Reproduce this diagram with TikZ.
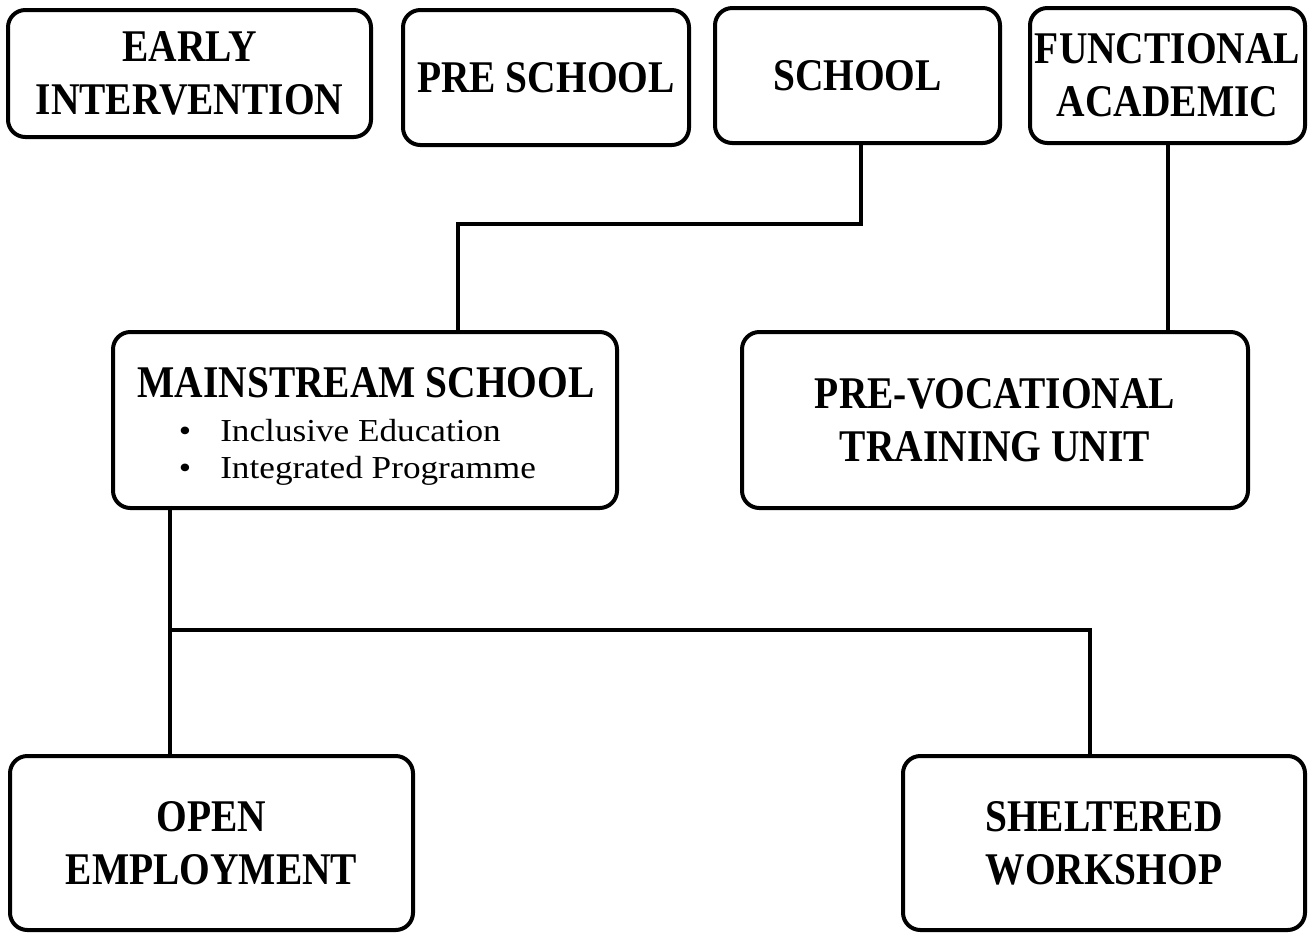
\documentclass[tikz,border=0pt]{standalone}
\usepackage{fontspec}
\setmainfont{Liberation Serif}
\newfontfamily\titlefont{Liberation Serif}[FakeStretch=0.87]
\newfontfamily\bodyfont{Liberation Serif}[FakeStretch=1.1]
\begin{document}
\begin{tikzpicture}[x=0.75pt,y=-0.75pt,
  box/.style={draw=black,line width=3pt,rounded corners=13pt,align=center,inner sep=0pt,
    font=\titlefont\bfseries\fontsize{34}{40}\selectfont},
  conn/.style={draw=black,line width=3pt},
  ttl/.style={font=\titlefont\bfseries\fontsize{34}{40}\selectfont,inner sep=0pt},
  itm/.style={font=\bodyfont\fontsize{24}{28}\selectfont,inner sep=0pt}]
\useasboundingbox (0,0) rectangle (1310,933);
\node[box,minimum width=272.25pt,minimum height=95.25pt] (early) at (189.5,73.5) {EARLY\\INTERVENTION};
\node[box,minimum width=214.5pt,minimum height=101.25pt] (pre) at (546,77.5) {PRE SCHOOL};
\node[box,minimum width=213.75pt,minimum height=101.25pt] (school) at (857.5,75.5) {SCHOOL};
\node[box,minimum width=206.25pt,minimum height=101.25pt] (func) at (1167.5,75.5) {FUNCTIONAL\\ACADEMIC};
\node[box,minimum width=378pt,minimum height=132pt] (main) at (365,420) {};
\node[box,minimum width=379.5pt,minimum height=132pt] (prevoc) at (995,420) {PRE-VOCATIONAL\\TRAINING UNIT};
\node[box,minimum width=302.25pt,minimum height=130.5pt] (open) at (211.5,843) {OPEN\\EMPLOYMENT};
\node[box,minimum width=301.5pt,minimum height=130.5pt] (shelt) at (1104,843) {SHELTERED\\WORKSHOP};
% mainstream contents
\node[ttl,anchor=base] (mtitle) at (366,397) {MAINSTREAM SCHOOL};
\node[itm,anchor=base] (b1) at (185,441) {•};
\node[itm,anchor=base west] (i1) at (220,441) {Inclusive Education};
\node[itm,anchor=base] (b2) at (185,478) {•};
\node[itm,anchor=base west] (i2) at (220,478) {Integrated Programme};
% connectors
\coordinate (j1) at (458,224);
\draw[conn] ([xshift=2.6pt]school.south) |- (j1) -- (j1 |- main.north);
\draw[conn] (func.south) -- (func.south |- prevoc.north);
\coordinate (j2) at (170,630);
\coordinate (j3) at (1090,630);
\draw[conn] (j2 |- main.south) -- (j2 |- open.north);
\draw[conn] (j2) -- (j3) -- (j3 |- shelt.north);
\end{tikzpicture}
\end{document}
